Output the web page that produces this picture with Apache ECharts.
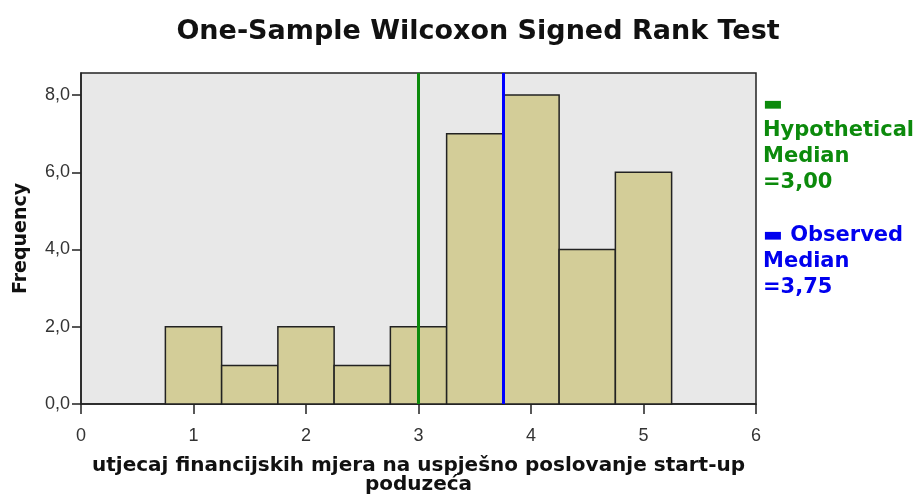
<!DOCTYPE html>
<html lang="en">
<head>
    <meta charset="UTF-8">
    <title>One-Sample Wilcoxon Signed Rank Test</title>
    <script src="https://cdn.jsdelivr.net/npm/echarts@6/dist/echarts.min.js"></script>
</head>
<body style="margin:0">
<div id="pic1" style="width: 923px;height:495px;"></div>
<script>
    // histogram bins (start, end) and counts
    var binStart = [0.75, 1.25, 1.75, 2.25, 2.75, 3.25, 3.75, 4.25, 4.75];
    var binEnd = [1.25, 1.75, 2.25, 2.75, 3.25, 3.75, 4.25, 4.75, 5.25];
    var counts = [2, 1, 2, 1, 2, 7, 8, 4, 6];
    var hypMedian = 3.00;
    var obsMedian = 3.75;
    var xTicks = [0, 1, 2, 3, 4, 5, 6];
    var yTicks = [0, 2, 4, 6, 8];

    var histData = [];
    for (var i = 0; i < counts.length; i++) {
        histData.push([binStart[i], binEnd[i], counts[i]]);
    }

    var myCharts1 = echarts.init(document.getElementById('pic1'));
    var font = '"Liberation Sans", Arial, sans-serif';
    var boldFont = '"DejaVu Sans", sans-serif';

    var option1 = {
        backgroundColor: 'white',
        animation: false,
        title: {
            text: 'One-Sample Wilcoxon Signed Rank Test',
            left: 473,
            textAlign: 'center',
            top: 13,
            textStyle: {
                color: '#111',
                fontFamily: boldFont,
                fontWeight: 'bold',
                fontSize: 27
            }
        },
        grid: {
            left: 81,
            right: 167,
            top: 73,
            bottom: 91,
            outerBoundsMode: 'none',
            show: true,
            backgroundColor: '#e8e8e8',
            borderColor: '#222',
            borderWidth: 1.5
        },
        xAxis: {
            type: 'value',
            min: xTicks[0],
            max: xTicks[xTicks.length - 1],
            interval: 1,
            splitLine: {show: false},
            axisLine: {show: true, lineStyle: {color: '#222', width: 1.5}},
            axisTick: {show: true, length: 10, lineStyle: {color: '#222', width: 1.5}},
            axisLabel: {color: '#333', fontFamily: font, fontSize: 18, margin: 23},
            name: 'utjecaj financijskih mjera na uspješno poslovanje start-up\npoduzeća',
            nameLocation: 'middle',
            nameGap: 52,
            nameTextStyle: {color: '#111', fontFamily: boldFont, fontWeight: 'bold', fontSize: 20, lineHeight: 19}
        },
        yAxis: {
            type: 'value',
            min: yTicks[0],
            max: 8.57,
            interval: 2,
            splitLine: {show: false},
            axisLine: {show: true, lineStyle: {color: '#222', width: 1.5}},
            axisTick: {show: true, length: 9, lineStyle: {color: '#222', width: 1.5}},
            axisLabel: {
                color: '#333', fontFamily: font, fontSize: 18, margin: 11,
                showMaxLabel: false,
                formatter: function (v) { return v.toFixed(1).replace('.', ','); }
            },
            name: 'Frequency',
            nameLocation: 'middle',
            nameGap: 50,
            nameTextStyle: {color: '#111', fontFamily: boldFont, fontWeight: 'bold', fontSize: 19}
        },
        series: [
            {
                type: 'custom',
                data: histData,
                renderItem: function (params, api) {
                    var p0 = api.coord([api.value(0), api.value(2)]);
                    var p1 = api.coord([api.value(1), 0]);
                    return {
                        type: 'rect',
                        shape: {x: p0[0], y: p0[1], width: p1[0] - p0[0], height: p1[1] - p0[1]},
                        style: {fill: '#d3cd98', stroke: '#222', lineWidth: 1.5}
                    };
                },
                encode: {x: [0, 1], y: 2},
                markLine: {
                    silent: true,
                    symbol: 'none',
                    label: {show: false},
                    data: [
                        {xAxis: hypMedian, lineStyle: {color: '#0c8a0c', width: 3, type: 'solid'}},
                        {xAxis: obsMedian, lineStyle: {color: '#0000ff', width: 3, type: 'solid'}}
                    ]
                }
            }
        ],
        graphic: [
            {
                type: 'text',
                left: 763,
                top: 92,
                style: {
                    text: '▬\nHypothetical\nMedian\n=3,00',
                    fill: '#0c8a0c',
                    font: 'bold 21px ' + boldFont,
                    lineHeight: 26
                }
            },
            {
                type: 'text',
                left: 763,
                top: 223,
                style: {
                    text: '▬ Observed\nMedian\n=3,75',
                    fill: '#0000ee',
                    font: 'bold 21px ' + boldFont,
                    lineHeight: 26
                }
            }
        ]
    };

    myCharts1.setOption(option1, true);
</script>
</body>
</html>
